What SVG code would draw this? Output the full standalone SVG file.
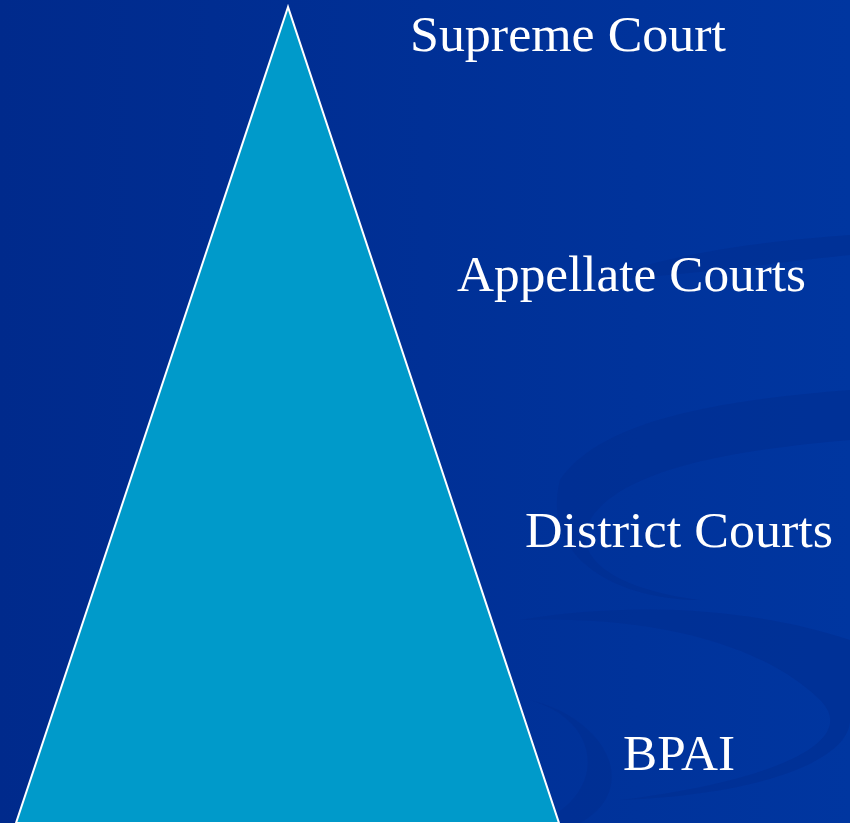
<svg xmlns="http://www.w3.org/2000/svg" width="850" height="823" viewBox="0 0 850 823">
<defs>
<linearGradient id="bg" x1="0" y1="0" x2="1" y2="0">
<stop offset="0" stop-color="#002A8C"/>
<stop offset="1" stop-color="#0036A0"/>
</linearGradient>
<style>
.lbl{font-family:"Liberation Serif","DejaVu Serif",serif;font-size:50px;fill:#ffffff;}
.sw{fill:#002E90;opacity:0.55;}
</style>
</defs>
<rect width="850" height="823" fill="url(#bg)"/>
<g id="swirls">
<path class="sw" d="M560 480 C600 420 720 400 850 390 L850 440 C730 450 620 470 590 520 C570 560 620 590 700 600 C620 600 540 560 560 480 Z"/>
<path class="sw" d="M850 640 C760 610 640 600 520 620 C640 615 760 640 820 700 C860 740 780 780 620 800 C760 795 850 760 850 720 Z"/>
<path class="sw" d="M530 700 C600 720 610 790 540 823 L580 823 C640 790 610 720 530 700 Z"/>
<path class="sw" d="M600 280 C680 250 780 240 850 235 L850 255 C780 262 690 275 600 280 Z"/>
</g>
<g id="pyramid">
<polygon points="288,7 16,823 559,823" fill="#009ACA" stroke="#ffffff" stroke-width="2"/>
</g>
<g id="supreme"><text class="lbl" x="410" y="51" textLength="316" lengthAdjust="spacingAndGlyphs">Supreme Court</text></g>
<g id="appellate"><text class="lbl" x="457" y="291" textLength="349" lengthAdjust="spacingAndGlyphs">Appellate Courts</text></g>
<g id="district"><text class="lbl" x="525" y="547" textLength="308" lengthAdjust="spacingAndGlyphs">District Courts</text></g>
<g id="bpai"><text class="lbl" x="623" y="770" textLength="112" lengthAdjust="spacingAndGlyphs">BPAI</text></g>
</svg>
